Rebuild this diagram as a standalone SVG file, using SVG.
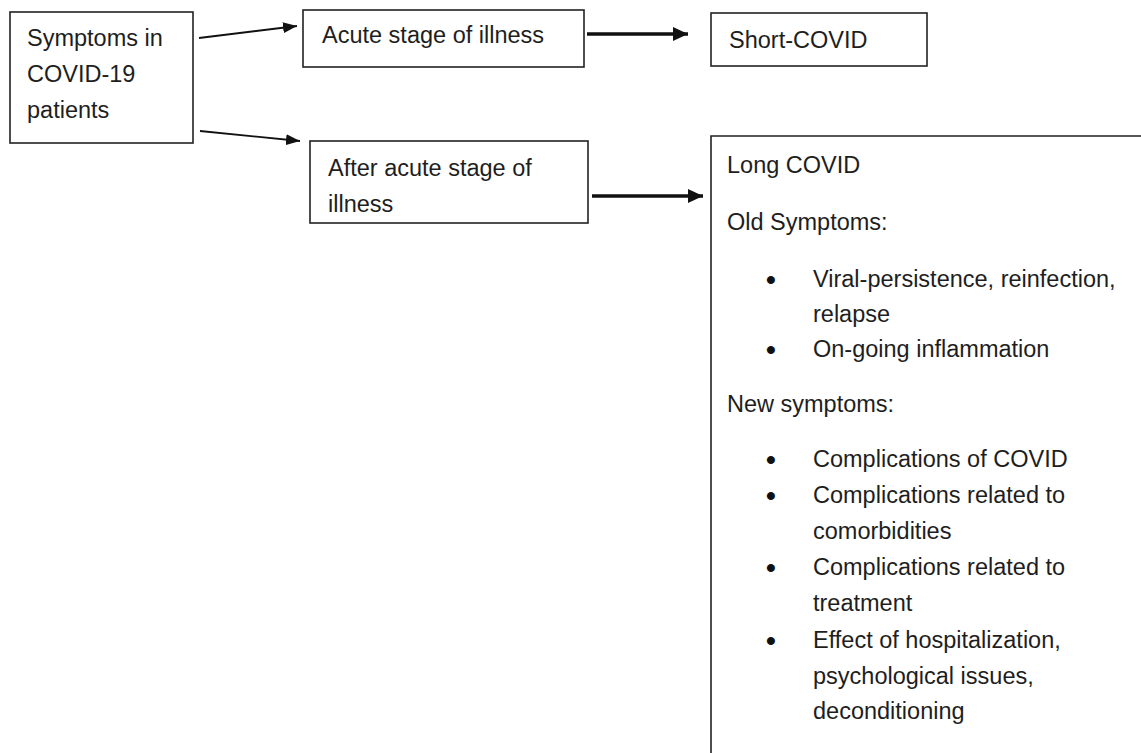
<svg xmlns="http://www.w3.org/2000/svg" width="1141" height="753" viewBox="0 0 1141 753">
<defs>
<style>
.box{fill:#fff;stroke:#222;stroke-width:1.6}
.t{font-family:"Liberation Sans",Arial,sans-serif;font-size:23.5px;fill:#1e1e1e}
.b{font-family:"Liberation Sans",Arial,sans-serif;font-size:28px;font-weight:bold;fill:#111}
.thin{stroke:#111;stroke-width:1.8;fill:none}
.thick{stroke:#111;stroke-width:3.4;fill:none}
</style>
<marker id="ah" markerUnits="userSpaceOnUse" markerWidth="14" markerHeight="11" refX="14" refY="5.5" orient="auto">
<path d="M0,0 L14,5.5 L0,11 z" fill="#111"/>
</marker>
<marker id="ahb" markerUnits="userSpaceOnUse" markerWidth="15" markerHeight="14" refX="15" refY="7" orient="auto">
<path d="M0,0 L15,7 L0,14 z" fill="#111"/>
</marker>
</defs>
<rect width="1141" height="753" fill="#fff"/>
<g id="connectors">
<line class="thin" x1="199" y1="38" x2="297" y2="26" marker-end="url(#ah)"/>
<line class="thin" x1="200" y1="131" x2="300" y2="141" marker-end="url(#ah)"/>
<line class="thick" x1="587" y1="34" x2="688" y2="34" marker-end="url(#ahb)"/>
<line class="thick" x1="592" y1="196" x2="703" y2="196" marker-end="url(#ahb)"/>
</g>
<g id="symptoms">
<rect class="box" x="10" y="12" width="183" height="131"/>
<text class="t" x="27" y="46">Symptoms in</text>
<text class="t" x="27" y="82">COVID-19</text>
<text class="t" x="27" y="118">patients</text>
</g>
<g id="acute">
<rect class="box" x="303" y="10" width="281" height="57"/>
<text class="t" x="322" y="43">Acute stage of illness</text>
</g>
<g id="short-covid">
<rect class="box" x="711" y="13" width="216" height="53"/>
<text class="t" x="729" y="48">Short-COVID</text>
</g>
<g id="after-acute">
<rect class="box" x="310" y="141" width="278" height="82"/>
<text class="t" x="328" y="176">After acute stage of</text>
<text class="t" x="328" y="212">illness</text>
</g>
<g id="long-covid">
<path d="M711,760 L711,136 L1150,136" fill="#fff" stroke="#222" stroke-width="1.6"/>
<text class="t" x="727" y="173">Long COVID</text>
<text class="t" x="727" y="230">Old Symptoms:</text>
<text class="b" x="766" y="289">•</text>
<text class="t" x="813" y="287">Viral-persistence, reinfection,</text>
<text class="t" x="813" y="322">relapse</text>
<text class="b" x="766" y="359">•</text>
<text class="t" x="813" y="357">On-going inflammation</text>
<text class="t" x="727" y="412">New symptoms:</text>
<text class="b" x="766" y="469">•</text>
<text class="t" x="813" y="467">Complications of COVID</text>
<text class="b" x="766" y="505">•</text>
<text class="t" x="813" y="503">Complications related to</text>
<text class="t" x="813" y="539">comorbidities</text>
<text class="b" x="766" y="577">•</text>
<text class="t" x="813" y="575">Complications related to</text>
<text class="t" x="813" y="611">treatment</text>
<text class="b" x="766" y="650">•</text>
<text class="t" x="813" y="648">Effect of hospitalization,</text>
<text class="t" x="813" y="684">psychological issues,</text>
<text class="t" x="813" y="719">deconditioning</text>
</g>
</svg>
